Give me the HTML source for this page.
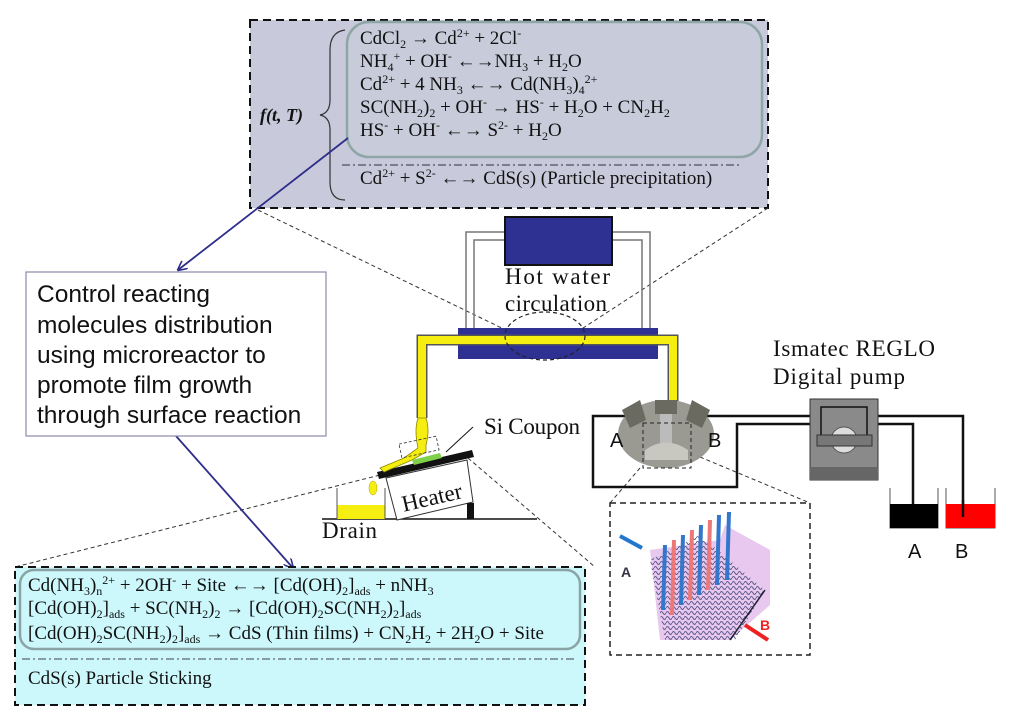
<!DOCTYPE html>
<html><head><meta charset="utf-8"><style>
html,body{margin:0;padding:0;background:#fff;}
svg{display:block;}
.s{font-family:"Liberation Serif",serif;}
.a{font-family:"Liberation Sans",sans-serif;}
</style></head><body>
<svg width="1024" height="720" viewBox="0 0 1024 720" xmlns="http://www.w3.org/2000/svg">
<defs>
<marker id="ah" markerWidth="10" markerHeight="10" refX="9" refY="5" orient="auto" markerUnits="userSpaceOnUse"><path d="M0,0 L10,5 L0,10" fill="none" stroke="#2e2e8a" stroke-width="1.6"/></marker>
<pattern id="wv" width="6" height="5" patternUnits="userSpaceOnUse"><path d="M0,3 Q1.5,0 3,3 T6,3" fill="none" stroke="#5a5a8a" stroke-width="1"/></pattern>
</defs>

<!-- top box -->
<rect x="250" y="20" width="518" height="188" fill="#c9c9dc" stroke="#111" stroke-width="2" stroke-dasharray="8,5"/>
<rect x="347" y="22" width="415" height="135" rx="22" fill="#c8cbda" stroke="#8fa6a6" stroke-width="2.5"/>
<g class="s" font-size="19" fill="#111">
<text x="360" y="44">CdCl<tspan font-size="12" dy="4">2</tspan><tspan dy="-4" font-weight="bold"> → </tspan><tspan>Cd</tspan><tspan font-size="12" dy="-7">2+</tspan><tspan dy="7"> + 2Cl</tspan><tspan font-size="12" dy="-7">-</tspan></text>
<text x="360" y="67">NH<tspan font-size="12" dy="4">4</tspan><tspan font-size="12" dy="-11">+</tspan><tspan dy="7"> + OH</tspan><tspan font-size="12" dy="-7">-</tspan><tspan dy="7" font-weight="bold"> ←→</tspan><tspan>NH</tspan><tspan font-size="12" dy="4">3</tspan><tspan dy="-4"> + H</tspan><tspan font-size="12" dy="4">2</tspan><tspan dy="-4">O</tspan></text>
<text x="360" y="90">Cd<tspan font-size="12" dy="-7">2+</tspan><tspan dy="7"> + 4 NH</tspan><tspan font-size="12" dy="4">3</tspan><tspan dy="-4" font-weight="bold"> ←→ </tspan><tspan>Cd(NH</tspan><tspan font-size="12" dy="4">3</tspan><tspan dy="-4">)</tspan><tspan font-size="12" dy="4">4</tspan><tspan font-size="12" dy="-11">2+</tspan></text>
<text x="360" y="113">SC(NH<tspan font-size="12" dy="4">2</tspan><tspan dy="-4">)</tspan><tspan font-size="12" dy="4">2</tspan><tspan dy="-4"> + OH</tspan><tspan font-size="12" dy="-7">-</tspan><tspan dy="7" font-weight="bold"> → </tspan><tspan>HS</tspan><tspan font-size="12" dy="-7">-</tspan><tspan dy="7"> + H</tspan><tspan font-size="12" dy="4">2</tspan><tspan dy="-4">O + CN</tspan><tspan font-size="12" dy="4">2</tspan><tspan dy="-4">H</tspan><tspan font-size="12" dy="4">2</tspan></text>
<text x="360" y="136">HS<tspan font-size="12" dy="-7">-</tspan><tspan dy="7"> + OH</tspan><tspan font-size="12" dy="-7">-</tspan><tspan dy="7" font-weight="bold"> ←→ </tspan><tspan>S</tspan><tspan font-size="12" dy="-7">2-</tspan><tspan dy="7"> + H</tspan><tspan font-size="12" dy="4">2</tspan><tspan dy="-4">O</tspan></text>
<text x="360" y="184">Cd<tspan font-size="12" dy="-7">2+</tspan><tspan dy="7"> + S</tspan><tspan font-size="12" dy="-7">2-</tspan><tspan dy="7" font-weight="bold"> ←→ </tspan><tspan>CdS(s) (Particle precipitation)</tspan></text>
<text x="260" y="121" font-weight="bold" font-style="italic" font-size="18">f(t, T)</text>
</g>
<line x1="342" y1="165" x2="740" y2="165" stroke="#333" stroke-width="1" stroke-dasharray="8,3,2,3"/>
<path d="M345,30 Q330,32 330,50 L330,100 Q330,113 320,115 Q330,117 330,130 L330,182 Q330,200 345,200" fill="none" stroke="#333" stroke-width="1.2"/>

<!-- zoom lines -->
<g stroke="#333" stroke-width="1" stroke-dasharray="4,3" fill="none">
<line x1="258" y1="210" x2="510" y2="332"/>
<line x1="768" y1="208" x2="580" y2="330"/>
<line x1="400" y1="470" x2="15" y2="567"/>
<line x1="468" y1="458" x2="595" y2="567"/>
<line x1="640" y1="468" x2="610" y2="503"/>
<line x1="700" y1="457" x2="810" y2="503"/>
</g>

<!-- arrows -->
<line x1="348" y1="138" x2="178" y2="270" stroke="#2e2e8a" stroke-width="1.8" marker-end="url(#ah)"/>
<line x1="176" y1="436" x2="293" y2="568" stroke="#2e2e8a" stroke-width="1.8" marker-end="url(#ah)"/>

<!-- left box -->
<rect x="26" y="272" width="300" height="164" fill="#fff" stroke="#8a8aa8" stroke-width="1.2"/>
<g class="a" font-size="24.5" fill="#111">
<text x="37" y="302">Control reacting</text>
<text x="37" y="333">molecules distribution</text>
<text x="37" y="363">using microreactor to</text>
<text x="37" y="393">promote film growth</text>
<text x="37" y="423">through surface reaction</text>
</g>

<!-- hot water -->
<g fill="none" stroke="#777" stroke-width="1.5">
<path d="M466,330 L466,232 L505,232"/><path d="M474,330 L474,240 L505,240"/>
<path d="M650,330 L650,232 L612,232"/><path d="M642,330 L642,240 L612,240"/>
</g>
<rect x="505" y="217" width="107" height="48" fill="#2e3192" stroke="#111" stroke-width="2"/>
<rect x="458" y="328" width="200" height="31" fill="#2e3192"/>
<path d="M422,418 L422,340 L673,340 L673,402" fill="none" stroke="#555" stroke-width="11"/>
<path d="M422,418 L422,340 L673,340 L673,402" fill="none" stroke="#f5ee10" stroke-width="8"/>
<ellipse cx="545" cy="336" rx="40" ry="24" fill="none" stroke="#222" stroke-width="1.2" stroke-dasharray="4,3"/>
<g class="s" font-size="23" fill="#111">
<text x="505" y="284" textLength="105">Hot water</text>
<text x="505" y="311" textLength="102">circulation</text>
<text x="773" y="356" textLength="162">Ismatec REGLO</text>
<text x="773" y="384" textLength="132">Digital pump</text>
<text x="484" y="434" textLength="96">Si Coupon</text>
<text x="322" y="538" textLength="55">Drain</text>
</g>

<!-- heater -->
<line x1="322" y1="519" x2="537" y2="519" stroke="#111" stroke-width="1.5"/>
<rect x="337" y="505" width="48" height="14" fill="#f5ee10"/>
<line x1="337" y1="488" x2="337" y2="519" stroke="#555" stroke-width="1"/>
<line x1="385" y1="488" x2="385" y2="519" stroke="#555" stroke-width="1"/>
<ellipse cx="373" cy="488" rx="4" ry="7" fill="#f5ee10" stroke="#aa0" stroke-width="0.5"/>
<polygon points="386,478 467,460 473,502 397,520" fill="#fff" stroke="#333" stroke-width="1"/>
<rect x="467" y="503" width="7" height="16" fill="#111"/>
<polygon points="377,472 472,450 474,457 379,479" fill="#111"/>
<path d="M418,418 L426,418 Q430,430 426,445 L426,452 L412,460 L384,472 L380,468 L404,458 L418,448 Q414,430 418,418 Z" fill="#f5ee10" stroke="#880" stroke-width="0.8"/>
<polygon points="412,460 440,453 442,458 414,465" fill="#7fd04a"/>
<rect x="400" y="440" width="38" height="14" fill="none" stroke="#333" stroke-width="0.8" stroke-dasharray="3,2" transform="rotate(-12 419 447)"/>
<line x1="473" y1="427" x2="446" y2="452" stroke="#111" stroke-width="1"/>
<text class="s" x="432" y="505" font-size="23" fill="#111" text-anchor="middle" transform="rotate(-13 432 498)">Heater</text>

<!-- tubing -->
<g fill="none" stroke="#111" stroke-width="2.5">
<path d="M640,416 L593,416 L593,487 L737,487 L737,424 L913,424 L913,513"/>
<path d="M700,416 L963,416 L963,517"/>
</g>
<!-- reactor -->
<ellipse cx="666" cy="434" rx="48" ry="34" fill="#9a9a92"/>
<rect x="655" y="400" width="22" height="14" fill="#6a6a60"/>
<rect x="660" y="414" width="12" height="30" fill="#bbb"/>
<polygon points="622,410 640,400 646,420 630,428" fill="#6a6a60"/>
<polygon points="710,410 692,400 686,420 702,428" fill="#6a6a60"/>
<path d="M645,450 Q666,435 688,450 L688,460 L645,460 Z" fill="#c8c8c0"/>
<rect x="643" y="423" width="48" height="45" fill="none" stroke="#222" stroke-width="1" stroke-dasharray="4,3"/>
<g class="a" font-size="20" fill="#111">
<text x="610" y="447">A</text><text x="708" y="447">B</text>
<text x="908" y="558">A</text><text x="955" y="558">B</text>
</g>
<!-- pump -->
<rect x="810" y="399" width="68" height="81" fill="#8a8a8a" stroke="#333" stroke-width="1"/>
<rect x="810" y="467" width="68" height="13" fill="#666"/>
<rect x="821" y="407" width="46" height="30" fill="none" stroke="#111" stroke-width="1.5"/>
<circle cx="844" cy="440" r="13" fill="#ddd" stroke="#555"/>
<rect x="817" y="435" width="55" height="11" fill="#777" stroke="#333"/>
<!-- beakers -->
<path d="M890,488 L890,528 L938,528 L938,488" fill="none" stroke="#555" stroke-width="1"/>
<rect x="890" y="504" width="48" height="24" fill="#000"/>
<path d="M946,488 L946,528 L995,528 L995,488" fill="none" stroke="#555" stroke-width="1"/>
<rect x="946" y="504" width="49" height="24" fill="#f00"/>
<line x1="963" y1="500" x2="963" y2="517" stroke="#111" stroke-width="2.5"/>

<!-- inset -->
<rect x="610" y="503" width="200" height="152" fill="#fff" stroke="#222" stroke-width="1.5" stroke-dasharray="6,4"/>
<polygon points="650,550 720,540 725,525 770,550 770,605 730,640 660,640" fill="#e8c8ee"/>
<polygon points="650,560 700,535 765,590 735,640 665,640" fill="url(#wv)"/>
<g stroke-width="4">
<line x1="663" y1="610" x2="665" y2="545" stroke="#3377cc"/>
<line x1="672" y1="615" x2="674" y2="540" stroke="#ee7777"/>
<line x1="681" y1="605" x2="683" y2="535" stroke="#3377cc"/>
<line x1="690" y1="600" x2="692" y2="530" stroke="#ee7777"/>
<line x1="699" y1="595" x2="701" y2="525" stroke="#3377cc"/>
<line x1="708" y1="590" x2="710" y2="520" stroke="#ee7777"/>
<line x1="717" y1="585" x2="719" y2="515" stroke="#3377cc"/>
<line x1="727" y1="580" x2="729" y2="512" stroke="#3377cc"/>
</g>
<line x1="620" y1="536" x2="642" y2="548" stroke="#2277cc" stroke-width="4"/>
<text x="621" y="577" font-family="Liberation Sans" font-weight="bold" font-size="14" fill="#334">A</text>
<line x1="768" y1="640" x2="745" y2="625" stroke="#ee2222" stroke-width="4"/>
<text x="760" y="630" font-family="Liberation Sans" font-weight="bold" font-size="14" fill="#e22">B</text>
<line x1="730" y1="640" x2="765" y2="590" stroke="#223" stroke-width="1.5"/>

<!-- bottom box -->
<rect x="15" y="567" width="570" height="138" fill="#ccf7fb" stroke="#111" stroke-width="2" stroke-dasharray="8,5"/>
<rect x="20" y="570" width="560" height="79" rx="14" fill="#ccf7fb" stroke="#8aa4a6" stroke-width="2.5"/>
<g class="s" font-size="19" fill="#111">
<text x="28" y="591">Cd(NH<tspan font-size="12" dy="4">3</tspan><tspan dy="-4">)</tspan><tspan font-size="12" dy="4">n</tspan><tspan font-size="12" dy="-11">2+</tspan><tspan dy="7"> + 2OH</tspan><tspan font-size="12" dy="-7">-</tspan><tspan dy="7"> + Site </tspan><tspan font-weight="bold">←→</tspan><tspan> [Cd(OH)</tspan><tspan font-size="12" dy="4">2</tspan><tspan dy="-4">]</tspan><tspan font-size="12" dy="4">ads</tspan><tspan dy="-4"> + nNH</tspan><tspan font-size="12" dy="4">3</tspan></text>
<text x="28" y="614">[Cd(OH)<tspan font-size="12" dy="4">2</tspan><tspan dy="-4">]</tspan><tspan font-size="12" dy="4">ads</tspan><tspan dy="-4"> + SC(NH</tspan><tspan font-size="12" dy="4">2</tspan><tspan dy="-4">)</tspan><tspan font-size="12" dy="4">2</tspan><tspan dy="-4" font-weight="bold"> → </tspan><tspan>[Cd(OH)</tspan><tspan font-size="12" dy="4">2</tspan><tspan dy="-4">SC(NH</tspan><tspan font-size="12" dy="4">2</tspan><tspan dy="-4">)</tspan><tspan font-size="12" dy="4">2</tspan><tspan dy="-4">]</tspan><tspan font-size="12" dy="4">ads</tspan></text>
<text x="28" y="639">[Cd(OH)<tspan font-size="12" dy="4">2</tspan><tspan dy="-4">SC(NH</tspan><tspan font-size="12" dy="4">2</tspan><tspan dy="-4">)</tspan><tspan font-size="12" dy="4">2</tspan><tspan dy="-4">]</tspan><tspan font-size="12" dy="4">ads</tspan><tspan dy="-4" font-weight="bold"> → </tspan><tspan>CdS (Thin films) + CN</tspan><tspan font-size="12" dy="4">2</tspan><tspan dy="-4">H</tspan><tspan font-size="12" dy="4">2</tspan><tspan dy="-4"> + 2H</tspan><tspan font-size="12" dy="4">2</tspan><tspan dy="-4">O + Site</tspan></text>
<text x="28" y="684">CdS(s) Particle Sticking</text>
</g>
<line x1="22" y1="659" x2="575" y2="659" stroke="#444" stroke-width="1" stroke-dasharray="8,3,2,3"/>
</svg>
</body></html>
